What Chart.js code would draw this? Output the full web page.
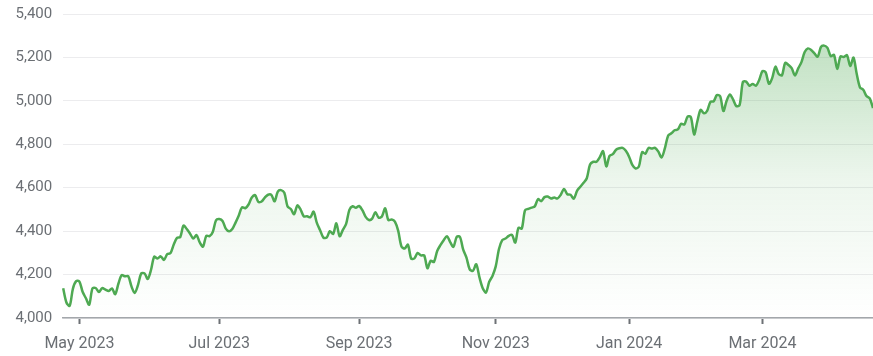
<!DOCTYPE html>
<html>
<head>
<meta charset="utf-8">
<script src="https://cdn.jsdelivr.net/npm/chart.js@4"></script>
<style>
  html, body { margin: 0; padding: 0; background: #fff; }
  #wrap { width: 873px; height: 356px; position: relative; }
</style>
</head>
<body>
<div id="wrap"><canvas id="chart"></canvas></div>
<script>
// S&P 500 daily closes, trading days Apr 24 2023 – Apr 19 2024
const tradingDays = [
  '2023-04-24','2023-04-25','2023-04-26','2023-04-27','2023-04-28',
  '2023-05-01','2023-05-02','2023-05-03','2023-05-04','2023-05-05','2023-05-08','2023-05-09','2023-05-10','2023-05-11','2023-05-12',
  '2023-05-15','2023-05-16','2023-05-17','2023-05-18','2023-05-19','2023-05-22','2023-05-23','2023-05-24','2023-05-25','2023-05-26',
  '2023-05-30','2023-05-31',
  '2023-06-01','2023-06-02','2023-06-05','2023-06-06','2023-06-07','2023-06-08','2023-06-09','2023-06-12','2023-06-13','2023-06-14',
  '2023-06-15','2023-06-16','2023-06-20','2023-06-21','2023-06-22','2023-06-23','2023-06-26','2023-06-27','2023-06-28','2023-06-29',
  '2023-06-30',
  '2023-07-03','2023-07-05','2023-07-06','2023-07-07','2023-07-10','2023-07-11','2023-07-12','2023-07-13','2023-07-14','2023-07-17',
  '2023-07-18','2023-07-19','2023-07-20','2023-07-21','2023-07-24','2023-07-25','2023-07-26','2023-07-27','2023-07-28','2023-07-31',
  '2023-08-01','2023-08-02','2023-08-03','2023-08-04','2023-08-07','2023-08-08','2023-08-09','2023-08-10','2023-08-11','2023-08-14',
  '2023-08-15','2023-08-16','2023-08-17','2023-08-18','2023-08-21','2023-08-22','2023-08-23','2023-08-24','2023-08-25','2023-08-28',
  '2023-08-29','2023-08-30','2023-08-31',
  '2023-09-01','2023-09-05','2023-09-06','2023-09-07','2023-09-08','2023-09-11','2023-09-12','2023-09-13','2023-09-14','2023-09-15',
  '2023-09-18','2023-09-19','2023-09-20','2023-09-21','2023-09-22','2023-09-25','2023-09-26','2023-09-27','2023-09-28','2023-09-29',
  '2023-10-02','2023-10-03','2023-10-04','2023-10-05','2023-10-06','2023-10-09','2023-10-10','2023-10-11','2023-10-12','2023-10-13',
  '2023-10-16','2023-10-17','2023-10-18','2023-10-19','2023-10-20','2023-10-23','2023-10-24','2023-10-25','2023-10-26','2023-10-27',
  '2023-10-30','2023-10-31',
  '2023-11-01','2023-11-02','2023-11-03','2023-11-06','2023-11-07','2023-11-08','2023-11-09','2023-11-10','2023-11-13','2023-11-14',
  '2023-11-15','2023-11-16','2023-11-17','2023-11-20','2023-11-21','2023-11-22','2023-11-24','2023-11-27','2023-11-28','2023-11-29',
  '2023-11-30',
  '2023-12-01','2023-12-04','2023-12-05','2023-12-06','2023-12-07','2023-12-08','2023-12-11','2023-12-12','2023-12-13','2023-12-14',
  '2023-12-15','2023-12-18','2023-12-19','2023-12-20','2023-12-21','2023-12-22','2023-12-26','2023-12-27','2023-12-28','2023-12-29',
  '2024-01-02','2024-01-03','2024-01-04','2024-01-05','2024-01-08','2024-01-09','2024-01-10','2024-01-11','2024-01-12','2024-01-16',
  '2024-01-17','2024-01-18','2024-01-19','2024-01-22','2024-01-23','2024-01-24','2024-01-25','2024-01-26','2024-01-29','2024-01-30',
  '2024-01-31',
  '2024-02-01','2024-02-02','2024-02-05','2024-02-06','2024-02-07','2024-02-08','2024-02-09','2024-02-12','2024-02-13','2024-02-14',
  '2024-02-15','2024-02-16','2024-02-20','2024-02-21','2024-02-22','2024-02-23','2024-02-26','2024-02-27','2024-02-28','2024-02-29',
  '2024-03-01','2024-03-04','2024-03-05','2024-03-06','2024-03-07','2024-03-08','2024-03-11','2024-03-12','2024-03-13','2024-03-14',
  '2024-03-15','2024-03-18','2024-03-19','2024-03-20','2024-03-21','2024-03-22','2024-03-25','2024-03-26','2024-03-27','2024-03-28',
  '2024-04-01','2024-04-02','2024-04-03','2024-04-04','2024-04-05','2024-04-08','2024-04-09','2024-04-10','2024-04-11','2024-04-12',
  '2024-04-15','2024-04-16','2024-04-17','2024-04-18','2024-04-19'
];

const closes = [
  4137.04, 4071.63, 4055.99, 4135.35, 4169.48,
  4167.87, 4119.58, 4090.75, 4061.22, 4136.25, 4138.12, 4119.17, 4137.64, 4130.62, 4124.08,
  4136.28, 4109.90, 4158.77, 4198.05, 4191.98, 4192.63, 4145.58, 4115.24, 4151.28, 4205.45,
  4205.52, 4179.83,
  4221.02, 4282.37, 4273.79, 4283.85, 4267.52, 4293.93, 4298.86, 4338.93, 4369.01, 4372.59,
  4425.84, 4409.59, 4388.71, 4365.69, 4381.89, 4348.33, 4328.82, 4378.41, 4376.86, 4396.44,
  4450.38,
  4455.59, 4446.82, 4411.59, 4398.95, 4409.53, 4439.26, 4472.16, 4510.04, 4505.42, 4522.79,
  4554.98, 4565.72, 4534.87, 4536.34, 4554.64, 4567.46, 4566.75, 4537.41, 4582.23, 4588.96,
  4576.73, 4513.39, 4501.89, 4478.03, 4518.44, 4499.38, 4467.71, 4468.83, 4464.05, 4489.72,
  4437.86, 4404.33, 4370.36, 4369.71, 4399.77, 4387.55, 4436.01, 4376.31, 4405.71, 4433.31,
  4497.63, 4514.87, 4507.66,
  4515.77, 4496.83, 4465.48, 4451.14, 4457.49, 4487.46, 4461.90, 4467.44, 4505.10, 4450.32,
  4453.53, 4443.95, 4402.20, 4330.00, 4320.06, 4337.44, 4273.53, 4274.51, 4299.70, 4288.05,
  4288.39, 4229.45, 4263.75, 4258.19, 4308.50, 4335.66, 4358.24, 4376.95, 4349.61, 4327.78,
  4373.63, 4373.20, 4314.60, 4278.00, 4224.16, 4217.04, 4247.68, 4186.77, 4137.23, 4117.37,
  4166.82, 4193.80,
  4237.86, 4317.78, 4358.34, 4365.98, 4378.38, 4382.78, 4347.35, 4415.24, 4411.55, 4495.70,
  4502.88, 4508.24, 4514.02, 4547.38, 4538.19, 4556.62, 4559.34, 4550.43, 4554.89, 4550.58,
  4567.80,
  4594.63, 4569.78, 4567.18, 4549.34, 4585.59, 4604.37, 4622.44, 4643.70, 4707.09, 4719.55,
  4719.19, 4740.56, 4768.37, 4698.35, 4746.75, 4754.63, 4774.75, 4781.58, 4783.35, 4769.83,
  4742.83, 4704.81, 4688.68, 4697.24, 4763.54, 4756.50, 4783.45, 4780.24, 4783.83, 4765.98,
  4739.21, 4780.94, 4839.81, 4850.43, 4864.60, 4868.55, 4894.16, 4890.97, 4927.93, 4924.97,
  4845.65,
  4906.19, 4958.61, 4942.81, 4954.23, 4995.06, 4997.91, 5026.61, 5021.84, 4953.17, 5000.62,
  5029.73, 5005.57, 4975.51, 4981.80, 5087.03, 5088.80, 5069.53, 5078.18, 5069.76, 5096.27,
  5137.08, 5130.95, 5078.65, 5104.76, 5157.36, 5123.69, 5117.94, 5175.27, 5165.31, 5150.48,
  5117.09, 5149.42, 5178.51, 5224.62, 5241.53, 5234.18, 5218.19, 5203.58, 5248.49, 5254.35,
  5243.77, 5205.81, 5211.49, 5147.21, 5204.34, 5202.39, 5209.91, 5160.64, 5199.06, 5123.41,
  5061.82, 5051.41, 5022.21, 5011.12, 4967.23
];

// Month labels shown on the x axis (first trading day of every other month)
const tickMonths = ['2023-05', '2023-07', '2023-09', '2023-11', '2024-01', '2024-03'];
const monthNames = ['Jan','Feb','Mar','Apr','May','Jun','Jul','Aug','Sep','Oct','Nov','Dec'];

// Y axis range and step
const yMin = 4000;
const yMax = 5400;
const yStep = 200;

const lineColor = '#4ea952';
const textColor = '#6b6f74';
const fontFamily = 'Roboto, Arial, sans-serif';

const tickIndexes = tickMonths.map(m => tradingDays.findIndex(d => d.startsWith(m)));

function areaGradient(context) {
  const { chart } = context;
  const { ctx, chartArea } = chart;
  if (!chartArea) return 'rgba(78,169,82,0.15)';
  const g = ctx.createLinearGradient(0, chartArea.top, 0, chartArea.bottom);
  g.addColorStop(0, 'rgba(78,169,82,0.40)');
  g.addColorStop(0.55, 'rgba(78,169,82,0.10)');
  g.addColorStop(1, 'rgba(78,169,82,0.0)');
  return g;
}

new Chart(document.getElementById('chart'), {
  type: 'line',
  data: {
    labels: tradingDays,
    datasets: [{
      data: closes,
      borderColor: lineColor,
      borderWidth: 2.5,
      backgroundColor: areaGradient,
      fill: 'start',
      tension: 0.3,
      pointRadius: 0,
      pointHoverRadius: 0
    }]
  },
  options: {
    responsive: true,
    maintainAspectRatio: false,
    animation: false,
    layout: { padding: { left: 4.5, right: 0, top: 0, bottom: 0 } },
    plugins: {
      legend: { display: false },
      tooltip: { enabled: false }
    },
    scales: {
      x: {
        type: 'category',
        offset: false,
        afterBuildTicks(scale) {
          scale.ticks = tickIndexes.map(i => ({ value: i }));
        },
        afterFit(scale) {
          scale.height = 38;
        },
        ticks: {
          autoSkip: false,
          maxRotation: 0,
          padding: 10,
          color: textColor,
          font: { family: fontFamily, size: 16 },
          callback(value) {
            const d = tradingDays[value];
            return monthNames[parseInt(d.slice(5, 7), 10) - 1] + ' ' + d.slice(0, 4);
          }
        },
        grid: {
          drawOnChartArea: false,
          drawTicks: true,
          tickLength: 6,
          tickWidth: 2,
          tickColor: '#6d7175'
        },
        border: { display: true, color: '#a3a7ab', width: 1.5 }
      },
      y: {
        min: yMin,
        max: yMax,
        afterFit(scale) {
          scale.paddingTop = 14;
        },
        ticks: {
          stepSize: yStep,
          padding: 11,
          color: textColor,
          font: { family: fontFamily, size: 15 },
          callback: v => v.toLocaleString('en-US')
        },
        grid: {
          color: '#ececee',
          lineWidth: 1,
          drawTicks: false
        },
        border: { display: false }
      }
    }
  }
});
</script>
</body>
</html>
